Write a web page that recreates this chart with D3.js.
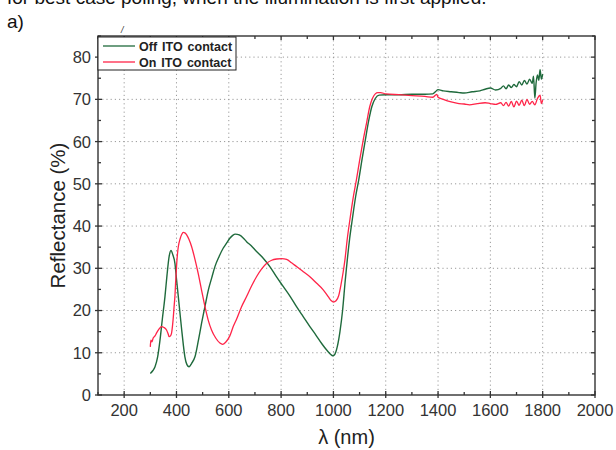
<!DOCTYPE html>
<html>
<head>
<meta charset="utf-8">
<script src="https://cdn.jsdelivr.net/npm/d3@7"></script>
<style>
  body { margin: 0; background: #fff; }
  text { font-family: Arial, "Liberation Sans", sans-serif; }
</style>
</head>
<body>
<div id="chart"></div>
<script>
// series (wavelength nm, reflectance %)
var offNm = [300,310,318,328,337,346,356,364,372,379,386,394,400,407,414,420,426,432,440,448,458,471,484,496,509,522,535,547,563,579,592,604,615,625,640,655,668,685,706,730,757,780,808,835,859,885,910,933,955,975,990,997,1005,1015,1025,1035,1045,1053,1062,1072,1085,1097,1110,1122,1135,1147,1160,1175,1200,1250,1300,1350,1380,1390,1400,1420,1450,1480,1500,1530,1560,1580,1600,1620,1640,1650,1660,1670,1680,1690,1700,1710,1720,1730,1740,1750,1760,1765,1770,1775,1780,1785,1790,1795,1800]
var offR  = [5.1,5.8,6.7,9,13,18,23.3,28.5,32.8,34.2,33.2,31.2,27.5,23.3,19,15.4,12,9.1,7.2,6.7,7.5,9.1,13,17,21,24.9,27.8,30.4,32.8,34.8,36,37.1,37.8,38.1,37.9,37.2,36.3,35.4,34,32.5,30.4,28.2,25.7,23.3,20.9,18.5,16.2,14.2,12.2,10.6,9.6,9.3,9.6,11.5,15,20,27,32,37,41.5,47,51,56,60.4,65,68.3,70.2,71,71.1,71.1,71.2,71.2,71.3,71.8,72.3,72,71.8,71.6,71.5,71.8,72,72.4,72.7,72.2,72.6,73.2,72.5,73.4,72.8,73.5,73,74.2,73.4,74.5,73.6,74.8,73.8,75.5,70.3,74,75.8,74.5,77,74.8,76]

var onNm = [300,302,306,311,318,324,333,343,352,362,368,372,377,381,385,388,391,394,397,401,404,407,414,420,426,432,439,448,458,470,483,496,509,521,534,550,566,576,588,604,617,630,648,668,687,706,725,745,764,783,802,821,840,859,885,910,935,961,980,992,1000,1010,1020,1030,1037,1044,1053,1063,1075,1088,1100,1114,1127,1139,1150,1160,1170,1180,1200,1250,1300,1350,1380,1395,1400,1420,1450,1480,1500,1520,1550,1580,1600,1620,1640,1650,1660,1670,1680,1690,1700,1710,1720,1730,1740,1750,1760,1770,1780,1790,1795,1800]
var onR  = [11.4,13,12.6,13.5,14,14.7,15.6,16.2,16,15.4,14.5,13.8,14,14.6,16.5,18.5,21,23.3,27,31.2,33.5,35.1,37,38,38.5,38.4,37.9,36.8,35.1,32.3,28.8,24.8,20.9,17.8,15.4,13.5,12.3,12,12.5,14,16.2,18,20.8,23.3,25.8,28,29.8,31.2,31.9,32.2,32.3,32.1,31.3,30.4,29.2,28,26.5,24.9,23.3,22.3,22,22.3,23.5,26.5,29,32,37,41.5,46.5,51,55.5,60.4,64.5,68.3,70.3,71.3,71.6,71.6,71.3,71.1,70.9,70.7,70.5,71.2,70.5,70,69.4,69,68.9,68.7,69,69.2,69,68.8,69.2,68.5,69.3,68.4,69.5,68.2,69.6,68.6,69.8,68.5,70,68.8,69.5,68.7,70.2,71,69,69.8]

var seriesNames = ["Off ITO contact", "On ITO contact"]
var seriesColors = ["#1f6a3c", "#ff2448"]

var xMajor = d3.range(200, 2001, 200)
var xMinor = d3.range(100, 2000, 200)
var yMajor = d3.range(0, 81, 10)
var yMinor = d3.range(5, 86, 10)

var W = 616, H = 450
var pL = 98, pR = 595, pT = 36, pB = 395

var svg = d3.select("#chart").append("svg")
  .attr("width", W).attr("height", H)

var x = d3.scaleLinear().domain([100, 2000]).range([pL, pR])
var y = d3.scaleLinear().domain([0, 85]).range([pB, pT])

// caption fragments above the chart
svg.append("text")
  .attr("x", 7).attr("y", 4)
  .style("font-size", "19px").attr("fill", "#111")
  .text("for best case poling, when the illumination is first applied.")
svg.append("text")
  .attr("x", 7).attr("y", 28)
  .style("font-size", "19px").attr("fill", "#111")
  .text("a)")
svg.append("text")
  .attr("x", 121).attr("y", 33)
  .style("font-size", "9px").style("font-style", "italic").attr("fill", "#333")
  .text("/")

// grid
var grid = svg.append("g").attr("stroke", "#9a9a9a").attr("stroke-width", 1)
  .attr("stroke-dasharray", "1.2,3")
grid.selectAll(".gx").data(xMajor.filter(d => d < 2000)).enter().append("line")
  .attr("x1", d => x(d)).attr("x2", d => x(d))
  .attr("y1", pT).attr("y2", pB)
grid.selectAll(".gy").data(yMajor.filter(d => d > 0)).enter().append("line")
  .attr("x1", pL).attr("x2", pR)
  .attr("y1", d => y(d)).attr("y2", d => y(d))

// lines
var line = d3.line().x(d => x(d[0])).y(d => y(d[1])).curve(d3.curveMonotoneX)
var offData = offNm.map((d, i) => [d, offR[i]])
var onData = onNm.map((d, i) => [d, onR[i]])

svg.append("path").datum(offData)
  .attr("fill", "none").attr("stroke", seriesColors[0]).attr("stroke-width", 1.4)
  .attr("d", line)
svg.append("path").datum(onData)
  .attr("fill", "none").attr("stroke", seriesColors[1]).attr("stroke-width", 1.3)
  .attr("d", line)

// frame + ticks
svg.append("rect")
  .attr("x", pL).attr("y", pT)
  .attr("width", pR - pL).attr("height", pB - pT)
  .attr("fill", "none").attr("stroke", "#333").attr("stroke-width", 1.4)

var ticks = svg.append("g").attr("stroke", "#333").attr("stroke-width", 1.3)
ticks.selectAll(".xb").data(xMajor).enter().append("line")
  .attr("x1", d => x(d)).attr("x2", d => x(d)).attr("y1", pB - 4).attr("y2", pB + 3)
ticks.selectAll(".xbm").data(xMinor).enter().append("line")
  .attr("x1", d => x(d)).attr("x2", d => x(d)).attr("y1", pB - 3).attr("y2", pB)
ticks.selectAll(".xt").data(xMajor).enter().append("line")
  .attr("x1", d => x(d)).attr("x2", d => x(d)).attr("y1", pT).attr("y2", pT + 4)
ticks.selectAll(".xtm").data(xMinor).enter().append("line")
  .attr("x1", d => x(d)).attr("x2", d => x(d)).attr("y1", pT).attr("y2", pT + 3)
ticks.selectAll(".yl").data(yMajor).enter().append("line")
  .attr("y1", d => y(d)).attr("y2", d => y(d)).attr("x1", pL - 3).attr("x2", pL + 4)
ticks.selectAll(".ylm").data(yMinor).enter().append("line")
  .attr("y1", d => y(d)).attr("y2", d => y(d)).attr("x1", pL).attr("x2", pL + 3)
ticks.selectAll(".yr").data(yMajor).enter().append("line")
  .attr("y1", d => y(d)).attr("y2", d => y(d)).attr("x1", pR - 4).attr("x2", pR)
ticks.selectAll(".yrm").data(yMinor).enter().append("line")
  .attr("y1", d => y(d)).attr("y2", d => y(d)).attr("x1", pR - 3).attr("x2", pR)

// tick labels
svg.selectAll(".xl").data(xMajor).enter().append("text")
  .attr("x", d => x(d)).attr("y", pB + 21)
  .attr("text-anchor", "middle").style("font-size", "16.5px").attr("fill", "#333")
  .text(d => d)
svg.selectAll(".ylab").data(yMajor).enter().append("text")
  .attr("x", pL - 7).attr("y", d => y(d)).attr("dy", "0.36em")
  .attr("text-anchor", "end").style("font-size", "16.5px").attr("fill", "#333")
  .text(d => d)

// axis titles
svg.append("text")
  .attr("transform", "translate(65," + ((pT + pB) / 2) + ") rotate(-90)")
  .attr("text-anchor", "middle").style("font-size", "20.5px").attr("fill", "#222")
  .text("Reflectance (%)")
svg.append("text")
  .attr("x", (pL + pR) / 2).attr("y", 444)
  .attr("text-anchor", "middle").style("font-size", "20px").attr("fill", "#222")
  .text("λ (nm)")

// legend
var lg = svg.append("g")
lg.append("rect")
  .attr("x", 98).attr("y", 37).attr("width", 138).attr("height", 33)
  .attr("fill", "#fff").attr("stroke", "#222").attr("stroke-width", 1)
var items = lg.selectAll(".li").data(seriesNames).enter().append("g")
  .attr("transform", (d, i) => "translate(0," + (46 + i * 16) + ")")
items.append("line")
  .attr("x1", 103).attr("x2", 135).attr("y1", 0).attr("y2", 0)
  .attr("stroke", (d, i) => seriesColors[i]).attr("stroke-width", 1.3)
items.append("text")
  .attr("x", 139).attr("dy", "0.36em")
  .style("font-size", "12.5px").style("font-weight", "bold").style("word-spacing", "1.5px")
  .attr("fill", "#222")
  .text(d => d)
</script>
</body>
</html>
